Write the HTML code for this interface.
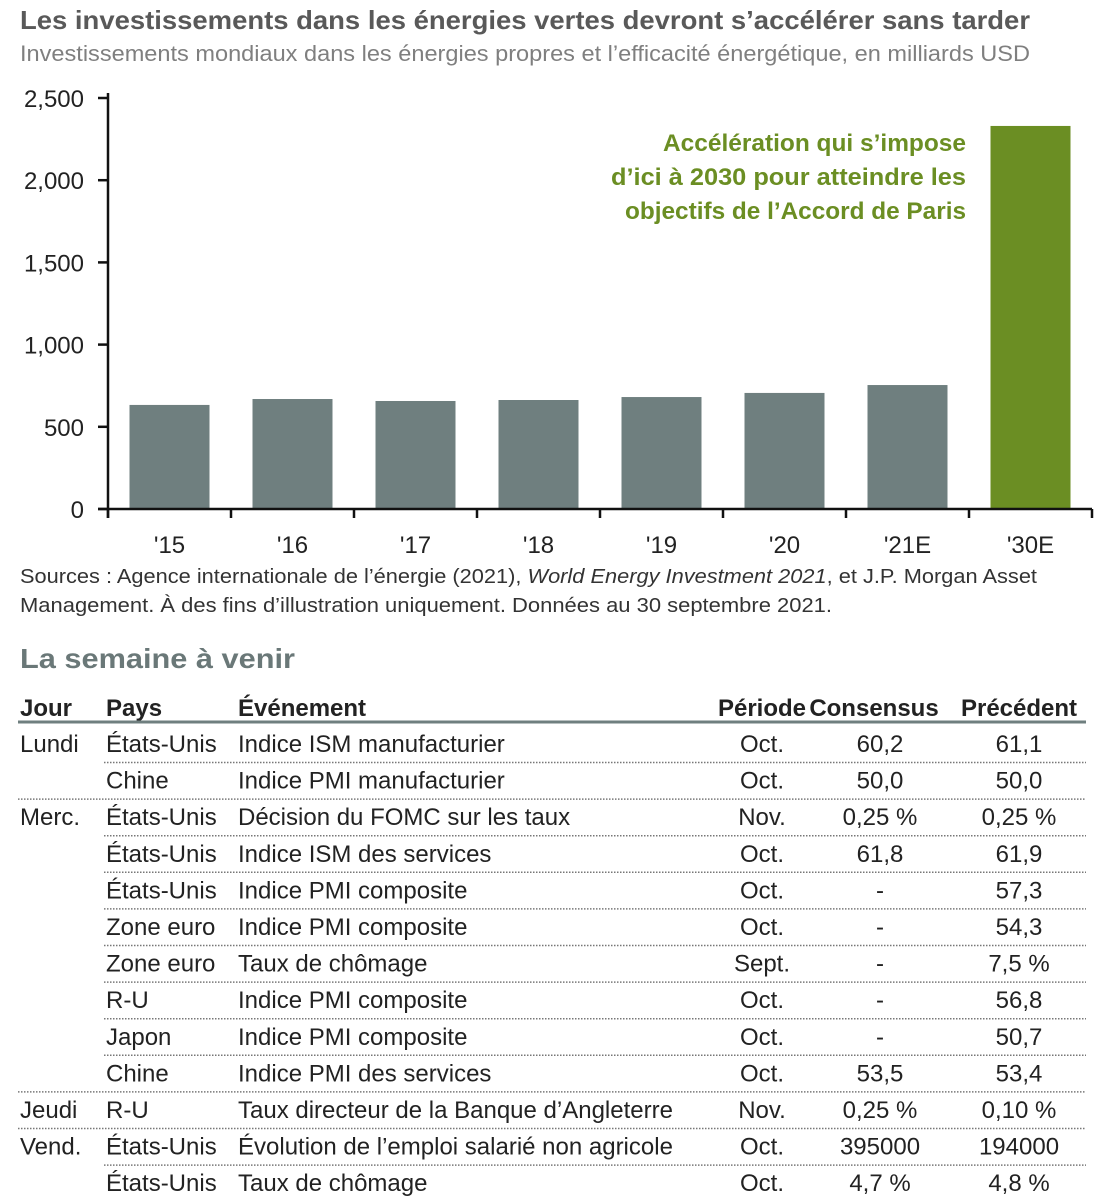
<!DOCTYPE html>
<html><head><meta charset="utf-8"><style>
html,body{margin:0;padding:0;background:#fff;width:1097px;height:1200px;overflow:hidden}
svg{display:block;font-family:"Liberation Sans",sans-serif}
</style></head><body>
<svg id="page" width="1097" height="1200" viewBox="0 0 1097 1200" xmlns="http://www.w3.org/2000/svg">
<text x="20" y="29" font-size="26" font-weight="bold" fill="#595959" textLength="1010" lengthAdjust="spacingAndGlyphs">Les investissements dans les énergies vertes devront s’accélérer sans tarder</text>
<text x="20" y="61" font-size="22" fill="#7f7f7f" textLength="1010" lengthAdjust="spacingAndGlyphs">Investissements mondiaux dans les énergies propres et l’efficacité énergétique, en milliards USD</text>
<g id="chart"></g>
<g font-size="24" font-weight="bold" fill="#6b8e23" text-anchor="end">
<text x="966" y="151" textLength="303" lengthAdjust="spacingAndGlyphs">Accélération qui s’impose</text>
<text x="966" y="185" textLength="355" lengthAdjust="spacingAndGlyphs">d’ici à 2030 pour atteindre les</text>
<text x="966" y="219" textLength="341" lengthAdjust="spacingAndGlyphs">objectifs de l’Accord de Paris</text>
</g>
<text x="20" y="583" font-size="20" fill="#333" textLength="1017" lengthAdjust="spacingAndGlyphs">Sources : Agence internationale de l’énergie (2021), <tspan font-style="italic">World Energy Investment 2021</tspan>, et J.P. Morgan Asset</text>
<text x="20" y="612" font-size="20" fill="#333" textLength="812" lengthAdjust="spacingAndGlyphs">Management. À des fins d’illustration uniquement. Données au 30 septembre 2021.</text>
<text x="20" y="668" font-size="28" font-weight="bold" fill="#6a7878" textLength="275" lengthAdjust="spacingAndGlyphs">La semaine à venir</text>
<g id="table"></g>
</svg>
<script>
const categories = ["'15","'16","'17","'18","'19","'20","'21E","'30E"];
const values = [633, 669, 657, 663, 681, 706, 754, 2330];
const yTicks = [0, 500, 1000, 1500, 2000, 2500];
const yTickLabels = ["0","500","1,000","1,500","2,000","2,500"];

const rowDays = ["Lundi","","Merc.","","","","","","","","Jeudi","Vend.",""];
const rowCountries = ["États-Unis","Chine","États-Unis","États-Unis","États-Unis","Zone euro","Zone euro","R-U","Japon","Chine","R-U","États-Unis","États-Unis"];
const rowEvents = ["Indice ISM manufacturier","Indice PMI manufacturier","Décision du FOMC sur les taux","Indice ISM des services","Indice PMI composite","Indice PMI composite","Taux de chômage","Indice PMI composite","Indice PMI composite","Indice PMI des services","Taux directeur de la Banque d’Angleterre","Évolution de l’emploi salarié non agricole","Taux de chômage"];
const rowPeriods = ["Oct.","Oct.","Nov.","Oct.","Oct.","Oct.","Sept.","Oct.","Oct.","Oct.","Nov.","Oct.","Oct."];
const rowConsensus = ["60,2","50,0","0,25 %","61,8","-","-","-","-","-","53,5","0,25 %","395000","4,7 %"];
const rowPrevious = ["61,1","50,0","0,25 %","61,9","57,3","54,3","7,5 %","56,8","50,7","53,4","0,10 %","194000","4,8 %"];

const NS="http://www.w3.org/2000/svg";
function mk(tag, attrs, parent, txt){const e=document.createElementNS(NS,tag);for(const k in attrs)e.setAttribute(k,attrs[k]);if(txt!==undefined)e.textContent=txt;parent.appendChild(e);return e;}

const chart=document.getElementById('chart');
const x0=108, slot=123, y0=509, yTop=98, vMax=2500;
const y=v=>y0-(v/vMax)*(y0-yTop);
const xc=i=>x0+slot*(i+0.5);
yTicks.forEach((t,i)=>{
  const tk=mk('line',{x1:98,x2:x0,y1:y(t),y2:y(t),stroke:'#111','stroke-width':2.5},chart);
  
  
  const lb=mk('text',{x:84,y:y(t)+9,'font-size':24,'text-anchor':'end',fill:'#222'},chart,yTickLabels[i]);
  
  
});
categories.forEach((c,i)=>{
  const b=mk('rect',{x:xc(i)-40,y:y(values[i]),width:80,height:y0-y(values[i]),fill:i===categories.length-1?'#6b8e23':'#6f7f7f'},chart);
  
  
  const lb=mk('text',{x:xc(i),y:553,'font-size':24,'text-anchor':'middle',fill:'#222'},chart,c);
  
  
});
for(let i=0;i<=categories.length;i++){
  const tk=mk('line',{x1:x0+slot*i,x2:x0+slot*i,y1:y0,y2:y0+9,stroke:'#111','stroke-width':2.5},chart);
  
  
}
const ya=mk('line',{x1:x0,x2:x0,y1:yTop-5,y2:y0+9,stroke:'#111','stroke-width':2.5},chart);


const xa=mk('line',{x1:98,x2:x0+slot*8,y1:y0,y2:y0,stroke:'#111','stroke-width':2.5},chart);



const tbl=document.getElementById('table');
const hdr=[["Jour",20,'start'],["Pays",106,'start'],["Événement",238,'start'],["Période",762,'middle'],["Consensus",874,'middle'],["Précédent",1019,'middle']];
hdr.forEach(h=>{
  const t=mk('text',{x:h[1],y:716,'font-size':24,'font-weight':'bold','text-anchor':h[2],fill:'#222'},tbl,h[0]);
  
  
});
const hl=mk('line',{x1:18,x2:1086,y1:722,y2:722,stroke:'#6f7f7f','stroke-width':3},tbl);


const pitch=36.6;
rowEvents.forEach((ev,i)=>{
  const base=752+pitch*i;
  const cells=[[rowDays[i],20,'start'],[rowCountries[i],106,'start'],[ev,238,'start'],[rowPeriods[i],762,'middle'],[rowConsensus[i],880,'middle'],[rowPrevious[i],1019,'middle']];
  cells.forEach(c=>{
    if(!c[0])return;
    const t=mk('text',{x:c[1],y:base,'font-size':24,'text-anchor':c[2],fill:'#222'},tbl,c[0]);
    
    
  });
  const full = i===rowEvents.length-1 || rowDays[i+1]!=="";
  const ly=base+10.5;
  const l=mk('line',{x1:full?18:104,x2:1086,y1:ly,y2:ly,stroke:'#777','stroke-width':1.5,'stroke-dasharray':'1.5 1.5'},tbl);
  
  
});
</script>
</body></html>
